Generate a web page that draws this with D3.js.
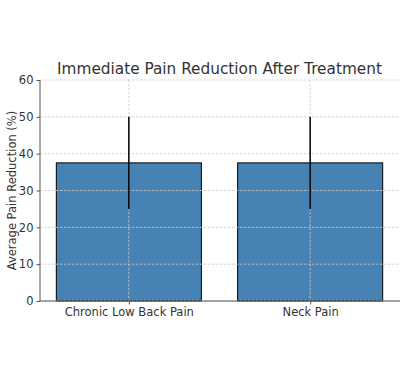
<!DOCTYPE html>
<html><head><meta charset="utf-8">
<script src="https://cdn.jsdelivr.net/npm/d3@7"></script>
<style>body{margin:0;background:#fff}svg{display:block;font-family:"DejaVu Sans",sans-serif}</style>
</head><body><svg id="c" width="406" height="379"></svg>
<script>
const categories = ["Chronic Low Back Pain", "Neck Pain"];
const values = [37.5, 37.5];
const errLow = [25, 25];
const errHigh = [50, 50];
const yTicks = [0, 10, 20, 30, 40, 50, 60];

const svg = d3.select("#c");
const L = 40, R = 399, T = 80, B = 301;
const x = d3.scaleLinear().domain([-0.49, 1.49]).range([L, R]);
const y = d3.scaleLinear().domain([0, 60]).range([B, T]);
const bw = x(0.8) - x(0);
const txt = "#333";

// bars
svg.selectAll("rect.bar").data(values).enter().append("rect")
  .attr("x", (d,i) => x(i) - bw/2).attr("width", bw)
  .attr("y", d => y(d)).attr("height", d => y(0) - y(d))
  .attr("fill", "#4682b4").attr("stroke", "#000").attr("stroke-width", 1);

// grid
const g = svg.append("g").attr("stroke", "#ccc").attr("stroke-width", 0.8).attr("stroke-dasharray", "2.5,1.5");
g.selectAll("line.h").data(yTicks).enter().append("line")
  .attr("x1", L).attr("x2", R).attr("y1", d => y(d)).attr("y2", d => y(d));
g.selectAll("line.v").data(categories).enter().append("line")
  .attr("x1", (d,i) => x(i)).attr("x2", (d,i) => x(i)).attr("y1", T).attr("y2", B);

// error bars
svg.selectAll("line.err").data(values).enter().append("line")
  .attr("x1", (d,i) => x(i)).attr("x2", (d,i) => x(i))
  .attr("y1", (d,i) => y(errLow[i])).attr("y2", (d,i) => y(errHigh[i]))
  .attr("stroke", "#000").attr("stroke-width", 1.5);

// axes
const ya = svg.append("g").attr("transform", `translate(${L},0)`)
  .call(d3.axisLeft(y).tickValues(yTicks).tickSize(3.5).tickPadding(3));
const xa = svg.append("g").attr("transform", `translate(0,${B})`)
  .call(d3.axisBottom(x).tickValues([0,1]).tickFormat((d)=>categories[d]).tickSize(3.5).tickPadding(3));
[ya, xa].forEach(a => {
  a.selectAll(".tick line").attr("stroke", "#555");
  a.selectAll("text").attr("fill", txt).attr("font-size", 11.5).attr("font-family", "DejaVu Sans");
});
ya.select(".domain").remove();
xa.select(".domain").remove();
svg.append("line").attr("x1", L).attr("x2", L).attr("y1", T).attr("y2", B).attr("stroke", "#555");
svg.append("line").attr("x1", L).attr("x2", R + 1).attr("y1", B).attr("y2", B).attr("stroke", "#555");

// title
svg.append("text").attr("x", (L+R)/2).attr("y", 74).attr("text-anchor", "middle")
  .attr("font-size", 15.3).attr("fill", txt).text("Immediate Pain Reduction After Treatment");
// y label
svg.append("text").attr("transform", `translate(16,${(T+B)/2}) rotate(-90)`).attr("text-anchor", "middle")
  .attr("font-size", 11.5).attr("fill", txt).text("Average Pain Reduction (%)");
</script></body></html>
